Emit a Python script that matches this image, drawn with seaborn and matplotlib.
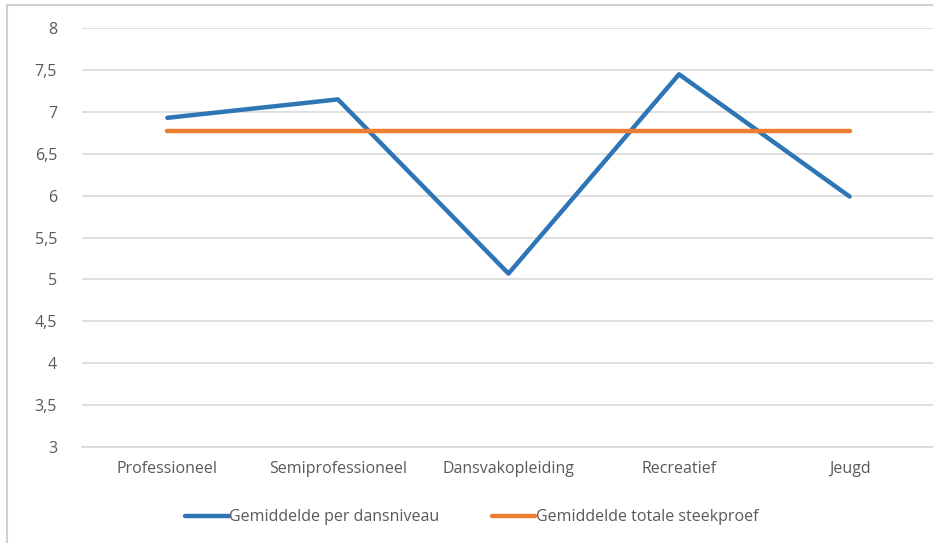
import matplotlib.pyplot as plt
import matplotlib.patches as mpatches
from matplotlib.ticker import FuncFormatter
import pandas as pd
import seaborn as sns

niveaus = ['Professioneel', 'Semiprofessioneel', 'Dansvakopleiding', 'Recreatief', 'Jeugd']
gem_per_niveau = [6.93, 7.15, 5.07, 7.45, 5.99]
gem_totaal = [6.77, 6.77, 6.77, 6.77, 6.77]
label_niveau = 'Gemiddelde per dansniveau'
label_totaal = 'Gemiddelde totale steekproef'

sns.set_style("white")
plt.rcParams['font.family'] = ['Open Sans', 'DejaVu Sans']

df = pd.DataFrame({
    'niveau': niveaus * 2,
    'waarde': gem_per_niveau + gem_totaal,
    'reeks': [label_niveau] * len(niveaus) + [label_totaal] * len(niveaus),
})

fig = plt.figure(figsize=(9.33, 5.43), dpi=100)
ax = fig.add_axes([0.088, 0.177, 0.914, 0.771])

sns.lineplot(data=df, x='niveau', y='waarde', hue='reeks', sort=False,
             palette=['#2e75b6', '#ed7d31'], linewidth=3.2, ax=ax, legend=False)

ax.set_ylim(3, 8)
ax.set_xlim(-0.5, 4.5)
ax.set_yticks([3 + 0.5 * i for i in range(11)])
ax.yaxis.set_major_formatter(FuncFormatter(lambda v, p: f'{v:g}'.replace('.', ',')))
ax.grid(axis='y', color='#d9d9d9', linewidth=1.2)
ax.set_axisbelow(True)
for s in ['top', 'right', 'left']:
    ax.spines[s].set_visible(False)
ax.spines['bottom'].set_color('#d9d9d9')
ax.spines['bottom'].set_linewidth(1.2)
ax.tick_params(axis='both', length=0, labelsize=11.5, colors='#595959')
ax.tick_params(axis='y', pad=18)
ax.tick_params(axis='x', pad=10)
ax.set_xlabel('')
ax.set_ylabel('')

handles = [plt.Line2D([], [], color='#2e75b6', linewidth=3.2),
           plt.Line2D([], [], color='#ed7d31', linewidth=3.2)]
fig.legend(handles, [label_niveau, label_totaal], loc='center', bbox_to_anchor=(0.506, 0.047),
           ncol=2, frameon=False, fontsize=11.5, labelcolor='#595959',
           handlelength=2.7, handletextpad=0.05, columnspacing=3.3)

fig.patches.append(mpatches.Rectangle((7 / 933, -0.05), 1.1, 1.04, transform=fig.transFigure,
                                      fill=False, edgecolor='#d0d0d0', linewidth=1.5))

fig.savefig('out.png', dpi=100)
